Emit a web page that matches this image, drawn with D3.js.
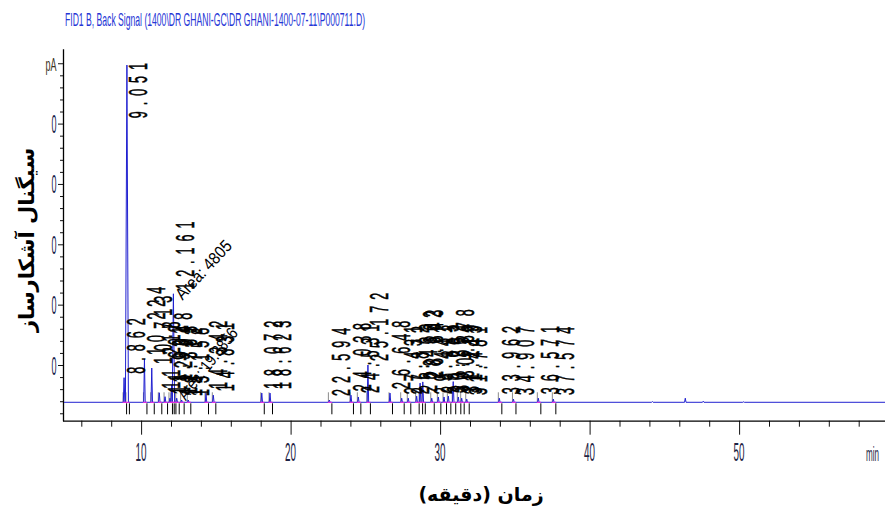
<!DOCTYPE html>
<html><head><meta charset="utf-8">
<script src="https://cdn.jsdelivr.net/npm/d3@7"></script>
<style>body{margin:0;background:#fff}svg{display:block}</style>
</head><body>
<svg id="c" width="885" height="509"></svg>
<script>
// ---------- data ----------
const titleText = "FID1 B, Back Signal (1400\\DR GHANI-GC\\DR GHANI-1400-07-11\\P000711.D)";
const xLabel = "زمان (دقیقه)";
const yLabel = "سیگنال آشکارساز";
const xUnit = "min";
const xMajorTicks = [10, 20, 30, 40, 50];
const xMajorLabels = ["10", "20", "30", "40", "50"];
const xMinorTicks = [6, 8, 12, 14, 16, 18, 22, 24, 26, 28, 32, 34, 36, 38, 42, 44, 46, 48, 52, 54, 56, 58];
const yMajorTicks = [10, 20, 30, 40, 50, 60];
const yMajorLabels = ["0", "0", "0", "0", "0", "pA"];
const yMinorTicks = [2, 4, 6, 8, 12, 14, 16, 18, 22, 24, 26, 28, 32, 34, 36, 38, 42, 44, 46, 48, 52, 54, 56, 58];
const baselineLevel = 3.82;
// retention time (min), apex signal, label (null = unlabelled)
const peakRT = [8.862, 9.051, 10.224, 10.713, 11.218, 11.602, 11.931, 12.048, 12.161, 12.383, 12.712, 13.158,
  14.342, 14.831, 18.072, 18.623, 22.594, 24.038, 24.531, 25.172, 26.648, 27.431, 27.872, 28.432, 28.662,
  28.843, 29.441, 29.883, 30.262, 30.551, 30.878, 31.219, 31.443, 31.781, 33.962, 34.907, 36.571, 37.574,
  44.20, 46.40, 47.60, 50.30];
const peakHeight = [7.9, 59.7, 11.0, 9.5, 5.4, 4.75, 4.5, 6.7, 21.8, 4.5, 4.2, 4.2,
  5.35, 5.0, 5.35, 5.35, 4.2, 5.0, 4.7, 10.0, 5.35, 4.5, 4.5, 4.85, 7.0,
  7.2, 4.5, 4.7, 4.7, 4.85, 7.25, 4.7, 4.5, 4.35, 4.5, 4.35, 4.5, 4.35,
  3.95, 4.5, 4.0, 3.9];
const peakLabel = ["8.862", "9.051", "10.224", "10.713", "11.218", "11.602", "11.931", "12.048", "12.161", "12.383", "12.712", "13.158",
  "14.342", "14.831", "18.072", "18.623", "22.594", "24.038", "24.531", "25.172", "26.648", "27.431", "27.872", "28.432", "28.662",
  "28.843", "29.441", "29.883", "30.262", "30.551", "30.878", "31.219", "31.443", "31.781", "33.962", "34.907", "36.571", "37.574",
  null, null, null, null];
const areaRT = [12.161, 12.712];
const areaText = ["Area: 4805", "Area: 19.3856"];
const areaAtApex = [true, false];

// ---------- layout ----------
const svg = d3.select("#c");
const plotL = 63, plotR = 885, plotT = 49.3, plotB = 420.7;
const x = d3.scaleLinear().domain([4.776, 59.759]).range([plotL, plotR]);
const y = d3.scaleLinear().domain([0, 60]).range([425.35, 63.25]);

const peaks = peakRT.map((rt, i) => ({rt, h: peakHeight[i], label: peakLabel[i]}));

// title
svg.append("text").attr("x", 65).attr("y", 26)
  .attr("font-family", "Liberation Sans, Arial, sans-serif").attr("font-size", 19)
  .attr("textLength", 300).attr("lengthAdjust", "spacingAndGlyphs")
  .attr("fill", "#2636d6").text(titleText);

// axes
const gx = svg.append("g").attr("transform", `translate(0,${plotB})`);
gx.call(d3.axisBottom(x).tickValues(xMajorTicks).tickSize(14).tickSizeOuter(0).tickFormat(""));
gx.call(g => g.select(".domain").remove());
const gx2 = svg.append("g").attr("transform", `translate(0,${plotB})`);
gx2.call(d3.axisBottom(x).tickValues(xMinorTicks).tickSize(6).tickSizeOuter(0).tickFormat(""));
gx2.call(g => g.select(".domain").remove());

const gy = svg.append("g").attr("transform", `translate(${plotL},0)`);
gy.call(d3.axisLeft(y).tickValues(yMajorTicks).tickSize(5).tickFormat(""));
gy.call(g => g.select(".domain").remove());
const gy2 = svg.append("g").attr("transform", `translate(${plotL},0)`);
gy2.call(d3.axisLeft(y).tickValues(yMinorTicks).tickSize(3).tickFormat(""));
gy2.call(g => g.select(".domain").remove());
svg.selectAll(".tick line").attr("stroke", "#111");

svg.append("line").attr("x1", plotL + 0.5).attr("x2", plotL + 0.5).attr("y1", plotT).attr("y2", plotB + 0.5)
  .attr("stroke", "#000").attr("stroke-width", 1.3);
svg.append("line").attr("x1", plotL).attr("x2", plotR).attr("y1", plotB + 0.5).attr("y2", plotB + 0.5)
  .attr("stroke", "#000").attr("stroke-width", 1.3);

// tick labels (condensed)
xMajorTicks.forEach((v, i) => {
  svg.append("text").attr("x", x(v)).attr("y", 461).attr("text-anchor", "middle")
    .attr("font-family", "Liberation Sans, Arial, sans-serif").attr("font-size", 26)
    .attr("textLength", 11).attr("lengthAdjust", "spacingAndGlyphs")
    .attr("fill", "#1e2444").text(xMajorLabels[i]);
});
svg.append("text").attr("x", 866).attr("y", 461)
  .attr("font-family", "Liberation Sans, Arial, sans-serif").attr("font-size", 20)
  .attr("textLength", 13).attr("lengthAdjust", "spacingAndGlyphs")
  .attr("fill", "#1e2444").text(xUnit);
yMajorTicks.forEach((v, i) => {
  const isUnit = yMajorLabels[i] === "pA";
  svg.append("text").attr("x", 56.5).attr("y", isUnit ? y(v) + 7.5 : y(v) + 9.5).attr("text-anchor", "end")
    .attr("font-family", "Liberation Sans, Arial, sans-serif").attr("font-size", isUnit ? 18 : 26)
    .attr("textLength", isUnit ? 11 : 5).attr("lengthAdjust", "spacingAndGlyphs")
    .attr("fill", isUnit ? "#3a3020" : "#16204a").text(yMajorLabels[i]);
});

// axis titles
svg.append("text").attr("transform", "translate(27,240) rotate(-90)")
  .attr("text-anchor", "middle").attr("dominant-baseline", "central")
  .attr("font-family", "DejaVu Sans, sans-serif").attr("font-weight", "bold").attr("font-size", 21)
  .attr("fill", "#000").text(yLabel);
svg.append("text").attr("x", 481).attr("y", 494)
  .attr("text-anchor", "middle").attr("dominant-baseline", "central")
  .attr("font-family", "DejaVu Sans, sans-serif").attr("font-weight", "bold").attr("font-size", 19)
  .attr("fill", "#000").text(xLabel);

// plot area
svg.append("clipPath").attr("id", "clip").append("rect")
  .attr("x", plotL + 1).attr("y", plotT).attr("width", plotR - plotL).attr("height", plotB - plotT);
const plot = svg.append("g").attr("clip-path", "url(#clip)");

// integration marks
const yb = y(baselineLevel);
peaks.filter(p => p.label).forEach(p => {
  plot.append("line").attr("x1", x(p.rt) - 1).attr("x2", x(p.rt) - 1).attr("y1", yb - 10).attr("y2", yb)
    .attr("stroke", "#8a8a8a").attr("stroke-width", 1);
  plot.append("line").attr("x1", x(p.rt) + 2.5).attr("x2", x(p.rt) + 2.5).attr("y1", yb + 1).attr("y2", yb + 12)
    .attr("stroke", "#000").attr("stroke-width", 1);
});

// signal trace
const pts = [[x.domain()[0], baselineLevel]];
peaks.forEach(p => {
  const w = p.h > 40 ? 0.1 : (p.h > 15 ? 0.08 : 0.05);
  pts.push([p.rt - w, baselineLevel], [p.rt, p.h], [p.rt + w, baselineLevel]);
});
pts.push([x.domain()[1], baselineLevel]);
plot.append("path").datum(pts)
  .attr("d", d3.line().x(d => x(d[0])).y(d => y(d[1])))
  .attr("fill", "none").attr("stroke", "#2020d0").attr("stroke-width", 1);

peaks.filter(p => p.label).forEach(p => {
  plot.append("line").attr("x1", x(p.rt) - 1.5).attr("x2", x(p.rt) + 2.5).attr("y1", yb).attr("y2", yb)
    .attr("stroke", "#e030e0").attr("stroke-width", 1.2);
});

// retention-time labels (rotated, condensed, widely spaced)
const LS = {size: 25, sx: 0.5, spacing: 12, gap: 4, dx: 20.5, top: 57};
peaks.filter(p => p.label).forEach(p => {
  const t = plot.append("text")
    .attr("font-family", "Liberation Sans, Arial, sans-serif").attr("font-size", LS.size)
    .attr("letter-spacing", LS.spacing).attr("fill", "#000")
    .attr("stroke", "#000").attr("stroke-width", 0.6).text(p.label);
  const len = t.node().getComputedTextLength() * LS.sx;
  let start = y(p.h) - LS.gap;
  if (start - len < LS.top) start = LS.top + len;
  t.attr("transform", `translate(${x(p.rt) + LS.dx},${start}) rotate(-90) scale(${LS.sx},1)`);
});

// area labels
areaRT.forEach((rt, i) => {
  const p = peaks.find(q => q.rt === rt);
  const ax = x(rt) + (areaAtApex[i] ? 9 : 4);
  const ay = areaAtApex[i] ? y(p.h) + 7 : yb - 1;
  const ang = areaAtApex[i] ? -47 : -52;
  const L = areaAtApex[i] ? 74 : 86;
  plot.append("text").attr("transform", `translate(${ax},${ay}) rotate(${ang})`)
    .attr("font-family", "Liberation Sans, Arial, sans-serif").attr("font-size", 17)
    .attr("textLength", L).attr("lengthAdjust", "spacingAndGlyphs")
    .attr("fill", "#000").text(areaText[i]);
});
</script>
</body></html>
